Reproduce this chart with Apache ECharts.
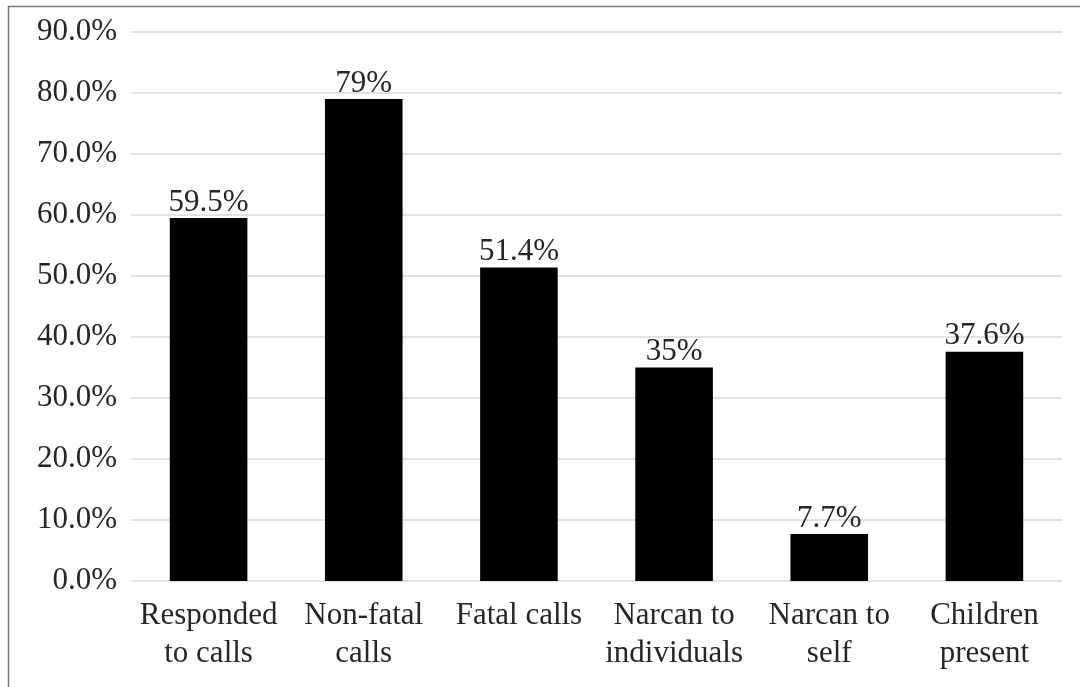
<!DOCTYPE html>
<html><head><meta charset="utf-8">
<script src="https://cdn.jsdelivr.net/npm/echarts@6/dist/echarts.min.js"></script>
<style>html,body{margin:0;padding:0;background:#fff}#c{width:1080px;height:687px}</style>
</head><body><div id="c"></div>
<script>
const categories = ['Responded\nto calls', 'Non-fatal\ncalls', 'Fatal calls', 'Narcan to\nindividuals', 'Narcan to\nself', 'Children\npresent'];
const values = [59.5, 79, 51.4, 35, 7.7, 37.6];
const valueLabels = ['59.5%', '79%', '51.4%', '35%', '7.7%', '37.6%'];
const yTicks = {min: 0, max: 90, interval: 10};

const font = '"Liberation Serif", "Times New Roman", serif';
const chart = echarts.init(document.getElementById('c'));
chart.setOption({
  animation: false,
  backgroundColor: '#fff',
  graphic: [{
    type: 'rect', silent: true,
    shape: {x: 8.5, y: 6.5, width: 1200, height: 800},
    style: {fill: 'none', stroke: '#7a7a7a', lineWidth: 1.5}
  }],
  grid: {left: 131, right: 18, top: 32, bottom: 106},
  xAxis: {
    type: 'category', data: categories,
    axisLine: {show: false}, axisTick: {show: false},
    axisLabel: {fontFamily: font, fontSize: 31, color: '#262626', lineHeight: 38, margin: 16, interval: 0}
  },
  yAxis: {
    type: 'value', min: yTicks.min, max: yTicks.max, interval: yTicks.interval,
    axisLine: {show: false}, axisTick: {show: false},
    axisLabel: {fontFamily: font, fontSize: 31, color: '#262626', margin: 14, padding: [3, 0, 0, 0],
      formatter: v => v.toFixed(1) + '%'},
    splitLine: {lineStyle: {color: '#d9d9d9', width: 1.5}}
  },
  series: [{
    type: 'bar', data: values, barWidth: '50%',
    itemStyle: {color: '#000'},
    label: {show: true, position: 'top', distance: 0, fontFamily: font, fontSize: 31, color: '#262626',
      formatter: p => valueLabels[p.dataIndex]}
  }]
});
</script></body></html>
